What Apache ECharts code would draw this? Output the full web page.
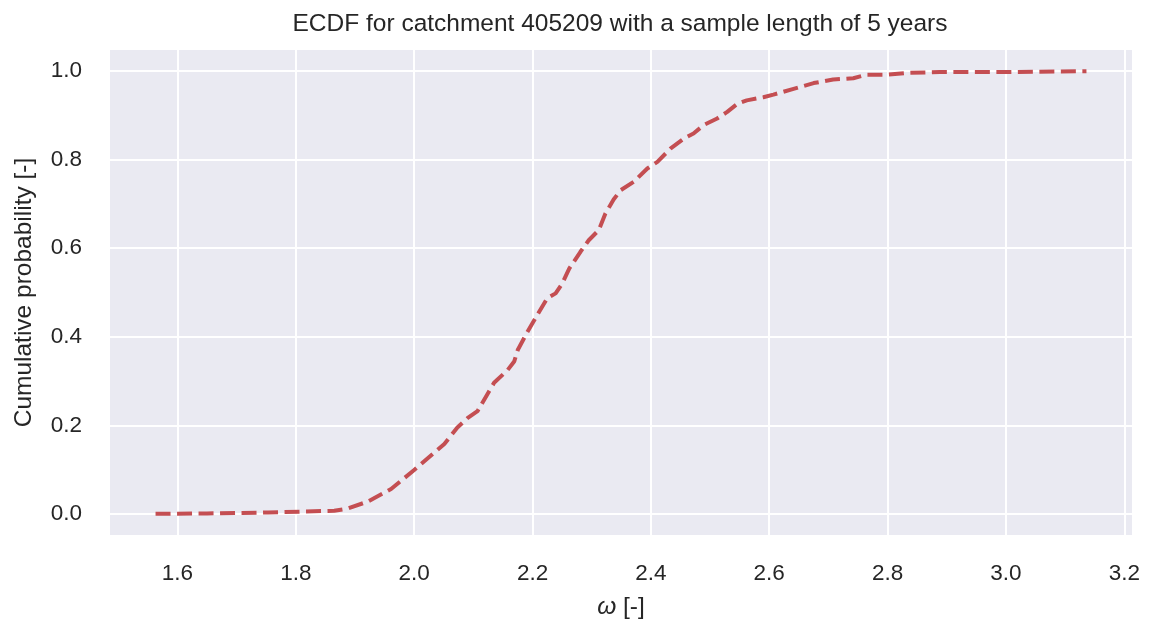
<!DOCTYPE html>
<html>
<head>
<meta charset="utf-8">
<script src="https://cdn.jsdelivr.net/npm/echarts@6/dist/echarts.min.js"></script>
<style>
  html, body { margin: 0; padding: 0; background: #ffffff; }
  #chart { width: 1151px; height: 621px; }
</style>
</head>
<body>
<div id="chart"></div>
<script>
// Empirical CDF of omega for catchment 405209 (5-year samples)
const omega = [1.563, 1.650, 1.753, 1.865, 1.888, 1.922, 1.961, 2.000, 2.051, 2.073,
  2.090, 2.107, 2.135, 2.158, 2.169, 2.175, 2.191, 2.211, 2.225, 2.239,
  2.250, 2.262, 2.281, 2.295, 2.312, 2.323, 2.337, 2.349, 2.371, 2.394,
  2.411, 2.433, 2.456, 2.472, 2.489, 2.512, 2.529, 2.546, 2.562, 2.590,
  2.607, 2.641, 2.675, 2.708, 2.742, 2.765, 2.798, 2.832, 2.888, 3.000, 3.136];
const prob = [0.000, 0.001, 0.003, 0.007, 0.012, 0.028, 0.056, 0.099, 0.158, 0.195,
  0.216, 0.232, 0.296, 0.325, 0.344, 0.370, 0.410, 0.456, 0.487, 0.498,
  0.520, 0.554, 0.592, 0.618, 0.641, 0.678, 0.710, 0.731, 0.750, 0.780,
  0.795, 0.825, 0.848, 0.859, 0.878, 0.893, 0.908, 0.926, 0.934, 0.941,
  0.947, 0.960, 0.973, 0.981, 0.984, 0.992, 0.992, 0.996, 0.998, 0.998, 1.000];

const titleText = 'ECDF for catchment 405209 with a sample length of 5 years';
const xName = '{w|ω} [-]';
const yName = 'Cumulative probability [-]';

// 5% padding around the data range on both axes
const xLo = Math.min(...omega), xHi = Math.max(...omega);
const xPad = (xHi - xLo) * 0.05;
const yPad = 0.05;

const points = omega.map((x, i) => [x, prob[i]]);

const textColor = '#262626';
const fontFamily = '"Liberation Sans", Arial, sans-serif';

const chart = echarts.init(document.getElementById('chart'), null, { renderer: 'canvas' });
chart.setOption({
  backgroundColor: '#ffffff',
  animation: false,
  title: {
    text: titleText,
    left: 615,
    textAlign: 'center',
    top: 7,
    textStyle: { color: textColor, fontSize: 24.5, fontWeight: 'normal', fontFamily }
  },
  grid: {
    left: 109, right: 18, top: 49, bottom: 85,
    containLabel: false,
    outerBoundsMode: 'none',
    show: true, backgroundColor: '#EAEAF2', borderWidth: 0
  },
  xAxis: {
    type: 'value',
    min: xLo - xPad,
    max: xHi + xPad,
    splitNumber: 8,
    name: xName,
    nameLocation: 'middle',
    nameGap: 59,
    nameTextStyle: {
      color: textColor, fontSize: 24.5, fontFamily,
      rich: { w: { fontStyle: 'italic', fontSize: 24.5, color: textColor, fontFamily } }
    },
    axisLine: { show: false },
    axisTick: { show: false },
    axisLabel: {
      color: textColor, fontSize: 22.5, fontFamily, margin: 26,
      showMinLabel: false, showMaxLabel: false,
      formatter: v => v.toFixed(1)
    },
    splitLine: { show: true, lineStyle: { color: '#ffffff', width: 2 } }
  },
  yAxis: {
    type: 'value',
    min: -yPad,
    max: 1 + yPad,
    splitNumber: 5,
    name: yName,
    nameLocation: 'middle',
    nameGap: 72,
    nameTextStyle: { color: textColor, fontSize: 24.5, fontFamily },
    axisLine: { show: false },
    axisTick: { show: false },
    axisLabel: {
      color: textColor, fontSize: 22.5, fontFamily, margin: 27,
      showMinLabel: false, showMaxLabel: false,
      formatter: v => v.toFixed(1)
    },
    splitLine: { show: true, lineStyle: { color: '#ffffff', width: 2 } }
  },
  series: [{
    type: 'line',
    data: points,
    showSymbol: false,
    symbol: 'none',
    lineStyle: { color: '#C44E52', width: 4, type: [15, 6.5], cap: 'butt' }
  }]
});
</script>
</body>
</html>
